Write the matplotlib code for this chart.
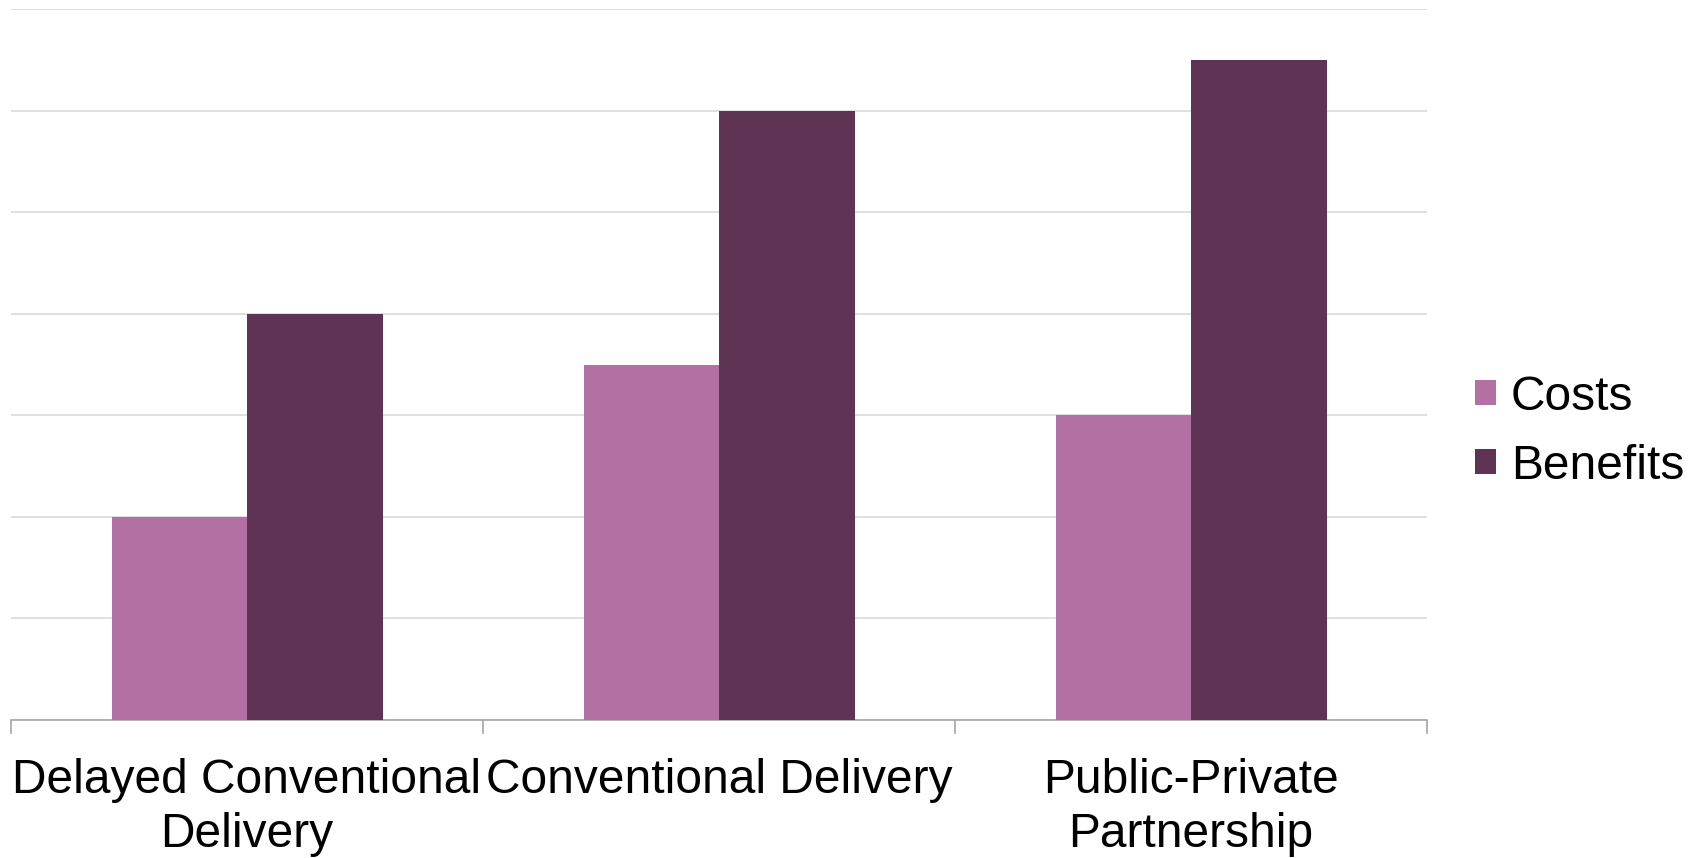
import matplotlib.pyplot as plt
import numpy as np

plt.rcParams['font.family'] = ['Liberation Sans', 'DejaVu Sans']

categories = ["Delayed Conventional\nDelivery", "Conventional Delivery", "Public-Private\nPartnership"]
costs = [2, 3.5, 3]
benefits = [4, 6, 6.5]

fig = plt.figure(figsize=(16.98, 8.58), dpi=100)
ax = fig.add_axes([0.0065, 0.1608, 0.834, 0.8287])

x = np.arange(len(categories))
w = 0.287
ax.bar(x - w / 2, costs, w, color="#B370A2", label="Costs", zorder=3)
ax.bar(x + w / 2, benefits, w, color="#5E3354", label="Benefits", zorder=3)

ax.set_xlim(-0.5, 2.5)
ax.set_ylim(0, 7)
ax.set_yticks(np.arange(0, 8, 1))
ax.yaxis.grid(True, color="#D9D9D9", linewidth=1.2, zorder=0)
ax.tick_params(axis="y", left=False, labelleft=False)

ax.set_xticks(x)
ax.set_xticklabels(categories, fontsize=34.5, linespacing=1.27)
ax.tick_params(axis="x", which="major", length=0, pad=27)
ax.set_xticks([-0.5, 0.5, 1.5, 2.5], minor=True)
ax.tick_params(axis="x", which="minor", length=10, color="#A6A6A6", width=1.2)

for s in ["top", "right", "left"]:
    ax.spines[s].set_visible(False)
ax.spines["bottom"].set_color("#A6A6A6")
ax.spines["bottom"].set_linewidth(1.2)

ax.legend(loc="center left", bbox_to_anchor=(0.8686, 0.497), bbox_transform=fig.transFigure,
          frameon=False, fontsize=34.5, borderpad=0, borderaxespad=0,
          handlelength=0.45, handleheight=0.45, handletextpad=0.3, labelspacing=0.5)

fig.savefig("out.png", dpi=100)
